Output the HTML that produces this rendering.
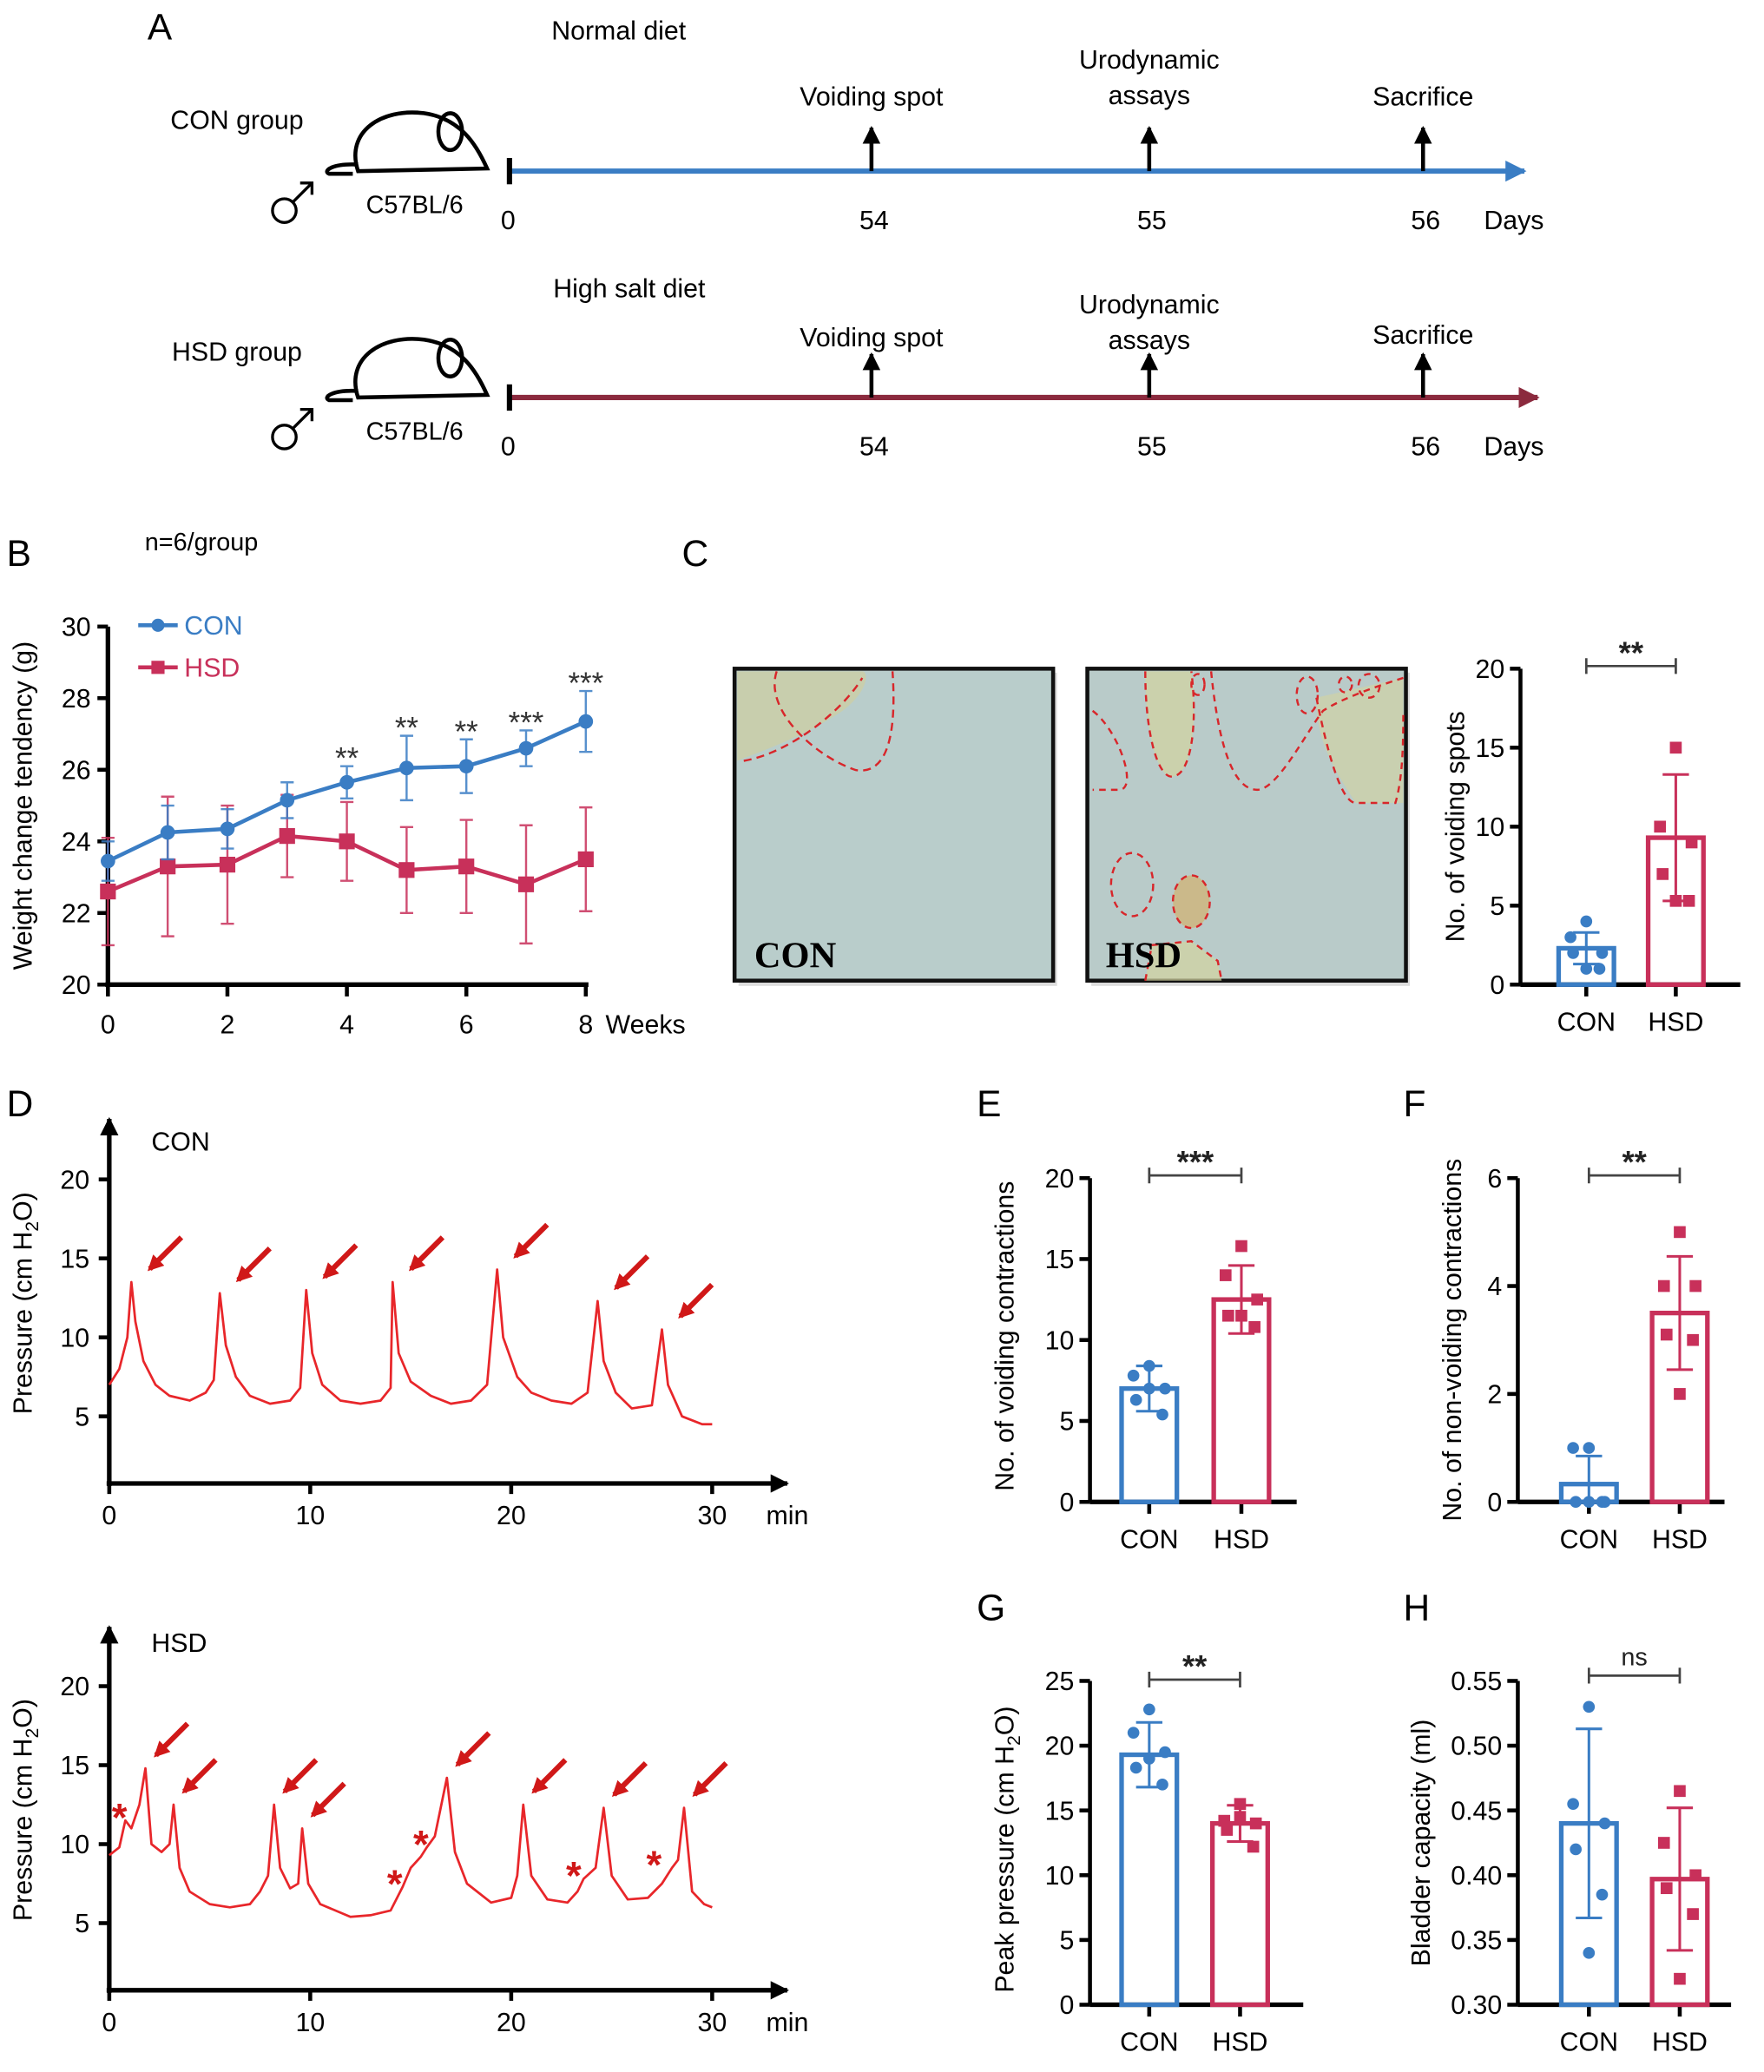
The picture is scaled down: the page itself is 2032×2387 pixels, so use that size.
<!DOCTYPE html>
<html><head><meta charset="utf-8">
<style>
html,body{margin:0;padding:0;background:#fff;}
svg{display:block;}
text{font-family:"Liberation Sans",Arial,sans-serif;}
</style></head>
<body>
<svg id="fig" xmlns="http://www.w3.org/2000/svg" width="2032" height="2387" viewBox="0 0 1340 1574.1">
<defs>
<marker id="ab" viewBox="0 0 10 10" refX="9" refY="5" markerWidth="4" markerHeight="4" orient="auto"><path d="M0,0 L10,5 L0,10 z" fill="#3a7dc4"/></marker>
<marker id="ar" viewBox="0 0 10 10" refX="9" refY="5" markerWidth="4" markerHeight="4" orient="auto"><path d="M0,0 L10,5 L0,10 z" fill="#8b2a3e"/></marker>
<marker id="ak" viewBox="0 0 10 10" refX="9" refY="5" markerWidth="4" markerHeight="4" orient="auto"><path d="M0,0 L10,5 L0,10 z" fill="#000"/></marker>
<marker id="akb" viewBox="0 0 10 10" refX="9" refY="5" markerWidth="4.5" markerHeight="4.5" orient="auto"><path d="M0,0 L10,5 L0,10 z" fill="#000"/></marker>
<marker id="arr" viewBox="0 0 10 10" refX="8" refY="5" markerWidth="3" markerHeight="3" orient="auto"><path d="M0,0 L10,5 L0,10 z" fill="#d01818"/></marker>
</defs>

<!-- PANEL A -->
<g>
<text x="112" y="30" font-size="28">A</text>
<g>
<text x="470" y="30" font-size="20" text-anchor="middle">Normal diet</text>
<text x="180" y="98" font-size="20" text-anchor="middle">CON group</text>
<g fill="none" stroke="#000" stroke-width="2.2">
<circle cx="216" cy="160" r="9"/><path d="M222.5,153.5 L237,139 M228,139 H237 V148"/>
</g>
<text x="315" y="162" font-size="19" text-anchor="middle">C57BL/6</text>
<g fill="none" stroke="#000" stroke-width="3">
<path d="M272,130 C262,100 290,82 322,86 C350,90 362,110 370,128 L272,130 Z"/>
<ellipse cx="342" cy="100" rx="9" ry="14"/><path d="M272,125 C252,124 245,130 250,132 L268,132"/>
</g>
<line x1="387" y1="130" x2="1158" y2="130" stroke="#3a7dc4" stroke-width="4" marker-end="url(#ab)"/>
<line x1="387" y1="120" x2="387" y2="140" stroke="#000" stroke-width="4"/>
</g>
<g>
<text x="478" y="226" font-size="20" text-anchor="middle">High salt diet</text>
<text x="180" y="274" font-size="20" text-anchor="middle">HSD group</text>
<g fill="none" stroke="#000" stroke-width="2.2">
<circle cx="216" cy="332" r="9"/><path d="M222.5,325.5 L237,311 M228,311 H237 V320"/>
</g>
<text x="315" y="334" font-size="19" text-anchor="middle">C57BL/6</text>
<g fill="none" stroke="#000" stroke-width="3">
<path d="M272,302 C262,272 290,254 322,258 C350,262 362,282 370,300 L272,302 Z"/>
<ellipse cx="342" cy="272" rx="9" ry="14"/><path d="M272,297 C252,296 245,302 250,304 L268,304"/>
</g>
<line x1="387" y1="302" x2="1168" y2="302" stroke="#8b2a3e" stroke-width="4" marker-end="url(#ar)"/>
<line x1="387" y1="292" x2="387" y2="312" stroke="#000" stroke-width="4"/>
</g>
</g>
<g id="aEvents"></g>

<!-- PANEL B -->
<g>
<text x="5" y="430" font-size="28">B</text>
<text x="110" y="418" font-size="19">n=6/group</text>
<text transform="translate(24,612) rotate(-90)" font-size="20" text-anchor="middle">Weight change tendency (g)</text>
<g>
<line x1="105" y1="475" x2="135" y2="475" stroke="#3a7dc4" stroke-width="3"/><circle cx="120" cy="475" r="5" fill="#3a7dc4"/>
<text x="140" y="482" font-size="20" fill="#3a7dc4">CON</text>
<line x1="105" y1="507" x2="135" y2="507" stroke="#c8305a" stroke-width="3"/><rect x="115" y="502" width="10" height="10" fill="#c8305a"/>
<text x="140" y="514" font-size="20" fill="#c8305a">HSD</text>
</g>
<g id="bChart"></g>
</g>

<!-- PANEL C -->
<g>
<text x="518" y="430" font-size="28">C</text>
<g>
<rect x="561" y="511" width="242" height="238" fill="#c6c6c6" opacity="0.6"/>
<rect x="558" y="508" width="242" height="237" fill="#b9cdcb" stroke="#111" stroke-width="3"/>
<path d="M560,578 C580,570 610,560 640,540 C660,525 660,510 655,510 L560,510Z" fill="#cfcf9f" opacity="0.7"/>
<path d="M565,578 C600,572 640,540 655,515 M590,510 C580,540 620,575 650,585 C680,590 680,540 678,510" fill="none" stroke="#d8262a" stroke-width="1.6" stroke-dasharray="6,4"/>
<text x="573" y="735" style="font-family:'Liberation Serif',serif;font-weight:bold;font-size:28px">CON</text>
</g>
<g>
<rect x="829" y="511" width="242" height="238" fill="#c6c6c6" opacity="0.6"/>
<rect x="826" y="508" width="242" height="237" fill="#b9cbc9" stroke="#111" stroke-width="3"/>
<path d="M870,510 C870,560 880,590 890,590 C905,590 910,550 905,510Z" fill="#d3d3a0" opacity="0.7"/>
<path d="M1000,530 L1066,515 L1066,610 L1030,610 C1010,580 1000,560 1000,530Z" fill="#d3d3a0" opacity="0.6"/>
<ellipse cx="905" cy="685" rx="14" ry="20" fill="#cbb98a"/>
<path d="M870,745 L875,718 L905,715 L925,730 L928,745Z" fill="#d3d3a0" opacity="0.7"/>
<g fill="none" stroke="#d8262a" stroke-width="1.6" stroke-dasharray="5,4">
<path d="M870,510 C870,560 880,590 890,590 C905,590 910,550 905,510"/>
<path d="M830,540 C850,555 865,600 850,600 L830,600"/>
<path d="M920,510 C925,560 935,600 955,600 C970,600 990,560 1005,540 C1020,530 1050,520 1066,515"/>
<path d="M1000,530 C1010,580 1020,610 1030,610 L1060,610 C1066,590 1066,560 1066,540"/>
<ellipse cx="910" cy="520" rx="5" ry="8"/><ellipse cx="1040" cy="521" rx="8" ry="9"/><ellipse cx="1022" cy="520" rx="5" ry="6"/><ellipse cx="993" cy="528" rx="8" ry="14"/>
<ellipse cx="860" cy="672" rx="16" ry="24"/><ellipse cx="905" cy="685" rx="14" ry="20"/>
<path d="M870,745 L875,718 L905,715 L925,730 L928,745"/>
</g>
<text x="840" y="735" style="font-family:'Liberation Serif',serif;font-weight:bold;font-size:28px">HSD</text>
</g>
<text transform="translate(1112,628) rotate(-90)" font-size="20" text-anchor="middle">No. of voiding spots</text>
<g id="cChart"></g>
</g>

<!-- PANEL D -->
<g>
<text x="5" y="848" font-size="28">D</text>
<text x="115" y="874" font-size="20">CON</text>
<text x="115" y="1255" font-size="20">HSD</text>
<text transform="translate(24,990) rotate(-90)" font-size="20" text-anchor="middle">Pressure (cm H<tspan font-size="14" dy="5">2</tspan><tspan dy="-5">O)</tspan></text>
<text transform="translate(24,1375) rotate(-90)" font-size="20" text-anchor="middle">Pressure (cm H<tspan font-size="14" dy="5">2</tspan><tspan dy="-5">O)</tspan></text>
<g id="dChart"></g>
</g>

<!-- Panels E-H -->
<text x="742" y="848" font-size="28">E</text>
<text x="1066" y="848" font-size="28">F</text>
<text x="742" y="1231" font-size="28">G</text>
<text x="1066" y="1231" font-size="28">H</text>
<text transform="translate(770,1015) rotate(-90)" font-size="20" text-anchor="middle">No. of voiding contractions</text>
<text transform="translate(1110,1018) rotate(-90)" font-size="20" text-anchor="middle">No. of non-voiding contractions</text>
<text transform="translate(770,1405) rotate(-90)" font-size="20" text-anchor="middle">Peak pressure (cm H<tspan font-size="14" dy="5">2</tspan><tspan dy="-5">O)</tspan></text>
<text transform="translate(1086,1400) rotate(-90)" font-size="20" text-anchor="middle">Bladder capacity (ml)</text>
<g id="efghChart"></g>
</svg>

<script>
// ---- Panel A data ----
const aEventDays = [54, 55, 56];
const aEventLabels = ["Voiding spot", "Urodynamic|assays", "Sacrifice"];
// ---- Panel B data ----
const bWeeks = [0,1,2,3,4,5,6,7,8];
const bConMean = [23.45,24.25,24.35,25.15,25.65,26.05,26.1,26.6,27.35];
const bConSD = [0.55,0.75,0.55,0.5,0.45,0.9,0.75,0.5,0.85];
const bHsdMean = [22.6,23.3,23.35,24.15,24.0,23.2,23.3,22.8,23.5];
const bHsdSD = [1.5,1.95,1.65,1.15,1.1,1.2,1.3,1.65,1.45];
const bSig = ["","","","","**","**","**","***","***"];
const bYTicks = [20,22,24,26,28,30];
const bXTicks = [0,2,4,6,8];
// ---- Panel C data ----
const cCats = ["CON","HSD"];
const cMean = [2.3, 9.3];
const cSD = [1.0, 4.0];
const cPointsCon = [4,3,2,2,1,1];
const cPointsHsd = [15,10,9,7,5.3,5.3];
const cTicks = [0,5,10,15,20];
// ---- Panel D data (time min, pressure) ----
const dConT = [0,0.5,0.9,1.1,1.3,1.7,2.3,3,4,4.8,5.2,5.5,5.8,6.3,7,8,9,9.5,9.8,10.1,10.6,11.5,12.5,13.5,14,14.1,14.4,15,16,17,18,18.8,19.3,19.6,20.3,21,22,23,23.8,24.3,24.6,25.2,26,27,27.5,27.8,28.5,29.5,30];
const dConP = [7,8,10,13.5,11,8.5,7,6.3,6,6.5,7.3,12.8,9.5,7.5,6.3,5.8,6,6.8,13,9,7,6,5.8,6,6.8,13.5,9,7.2,6.3,5.8,6,7,14.3,10,7.5,6.5,6,5.8,6.5,12.3,8.5,6.5,5.5,5.7,10.5,7,5,4.5,4.5];
const dConPeaks = [1.1,5.5,9.8,14.1,19.3,24.3,27.5];
const dConPeakP = [13.5,12.8,13,13.5,14.3,12.3,10.5];
const dHsdT = [0,0.5,0.8,1.1,1.5,1.8,2.1,2.6,3,3.2,3.5,4,5,6,7,7.5,7.9,8.2,8.5,9,9.4,9.6,9.9,10.5,12,13,14,14.6,15,15.5,15.8,16.2,16.8,17.2,17.8,19,20,20.3,20.6,21,21.8,22.8,23.3,23.6,24.2,24.6,25,25.8,26.8,27.5,28,28.3,28.6,29,29.6,30];
const dHsdP = [9.3,9.8,11.5,11,12.5,14.8,10,9.5,10,12.5,8.5,7,6.2,6,6.2,7,8,12.5,8.5,7.2,7.5,11,7.5,6.2,5.4,5.5,5.8,7.3,8.5,9.2,9.8,10.5,14.2,9.5,7.5,6.3,6.6,8,12.5,8,6.5,6.3,7,7.8,8.5,12.3,8,6.5,6.6,7.5,8.5,9,12.3,7,6.2,6];
const dHsdPeaks = [1.8,3.2,8.2,9.6,16.8,20.6,24.6,28.6];
const dHsdPeakP = [14.8,12.5,12.5,11,14.2,12.5,12.3,12.3];
const dHsdStarT = [0.9,14.6,15.9,23.5,27.5];
const dHsdStarP = [11.5,7.3,9.8,7.8,8.5];
const dXTicks = [0,10,20,30];
const dYTicks = [5,10,15,20];
// ---- Panels E-H data ----
const eMean = [7.0, 12.5]; const eSD = [1.4, 2.1];
const ePtsCon = [8.4,7.8,7.0,6.3,5.4,7.0]; const ePtsHsd = [15.8,14.0,12.5,11.5,10.8,11.5];
const eTicks = [0,5,10,15,20];
const fMean = [0.33, 3.5]; const fSD = [0.52, 1.05];
const fPtsCon = [1,1,0,0,0,0]; const fPtsHsd = [5,4,4,3.1,3,2];
const fTicks = [0,2,4,6];
const gMean = [19.3, 14.0]; const gSD = [2.5, 1.4];
const gPtsCon = [22.8,21,19.5,18.3,17,19.0]; const gPtsHsd = [15.5,14.2,14,13.5,12.2,14.5];
const gTicks = [0,5,10,15,20,25];
const hMean = [0.44, 0.397]; const hSD = [0.073, 0.055];
const hPtsCon = [0.53,0.455,0.44,0.42,0.385,0.34]; const hPtsHsd = [0.465,0.425,0.40,0.39,0.37,0.32];
const hTicks = [0.30,0.35,0.40,0.45,0.50,0.55];

const NS = "http://www.w3.org/2000/svg";
const BLUE = "#3a7dc4", RED = "#c8305a", TR = "#e8262a";
function el(parent, tag, attrs, txt){
  const e = document.createElementNS(NS, tag);
  for (const k in attrs) e.setAttribute(k, attrs[k]);
  if (txt !== undefined) e.textContent = txt;
  parent.appendChild(e);
  return e;
}

// Panel A events
(function(){
  const g = document.getElementById('aEvents');
  const pos = d => d === 54 ? 662 : d === 55 ? 873 : d === 56 ? 1081 : 387;
  [[130,0],[302,1]].forEach(([ly, row]) => {
    aEventDays.forEach((d, i) => {
      const x = pos(d);
      const a = el(g, 'line', {x1:x, y1:ly, x2:x, y2:ly-33, stroke:'#000', 'stroke-width':3, 'marker-end':'url(#akb)'});
      
      
      const parts = aEventLabels[i].split('|');
      const top = row === 0 ? (parts.length > 1 ? 52 : 80) : (parts.length > 1 ? 238 : (i === 2 ? 261 : 263));
      parts.forEach((p, j) => {
        const t = el(g, 'text', {x:x, y:top + j*27, 'font-size':20, 'text-anchor':'middle'}, p);
        
        
      });
      const n = el(g, 'text', {x:x+2, y:ly+44, 'font-size':20, 'text-anchor':'middle'}, String(d));
      
      
    });
    const z = el(g, 'text', {x:386, y:ly+44, 'font-size':20, 'text-anchor':'middle'}, '0');
    
    
    const dd = el(g, 'text', {x:1150, y:ly+44, 'font-size':20, 'text-anchor':'middle'}, 'Days');
    
    
  });
})();

// Panel B
(function(){
  const g = document.getElementById('bChart');
  const X = w => 82 + w * (445 - 82) / 8;
  const Y = v => 748 - (v - 20) * (748 - 476) / 10;
  el(g, 'line', {x1:82, y1:476, x2:82, y2:748, stroke:'#000', 'stroke-width':3.5});
  el(g, 'line', {x1:80, y1:748, x2:447, y2:748, stroke:'#000', 'stroke-width':3.5});
  bYTicks.forEach(v => {
    el(g, 'line', {x1:74, y1:Y(v), x2:82, y2:Y(v), stroke:'#000', 'stroke-width':3});
    const t = el(g, 'text', {x:69, y:Y(v)+7, 'font-size':20, 'text-anchor':'end'}, v);
    
    
  });
  bXTicks.forEach(w => {
    el(g, 'line', {x1:X(w), y1:748, x2:X(w), y2:757, stroke:'#000', 'stroke-width':3});
    const t = el(g, 'text', {x:X(w), y:785, 'font-size':20, 'text-anchor':'middle'}, w);
    
    
  });
  const wl = el(g, 'text', {x:460, y:785, 'font-size':20}, 'Weeks');
  
  
  [[bHsdMean, bHsdSD, RED, 'hsd'], [bConMean, bConSD, BLUE, 'con']].forEach(([m, s, c, nm]) => {
    m.forEach((v, i) => {
      const x = X(bWeeks[i]);
      const e = el(g, 'path', {d:`M${x-5},${Y(v+s[i])}H${x+5}M${x},${Y(v+s[i])}V${Y(v-s[i])}M${x-5},${Y(v-s[i])}H${x+5}`, stroke:c, 'stroke-width':1.6, fill:'none', opacity:0.85});
      
      
    });
    const ln = el(g, 'polyline', {points: m.map((v,i) => X(bWeeks[i]) + ',' + Y(v)).join(' '), fill:'none', stroke:c, 'stroke-width':3});
    
    
    m.forEach((v, i) => {
      const x = X(bWeeks[i]);
      const p = nm === 'con' ? el(g, 'circle', {cx:x, cy:Y(v), r:5.5, fill:c}) : el(g, 'rect', {x:x-6, y:Y(v)-6, width:12, height:12, fill:c});
      
      
    });
  });
  bSig.forEach((s, i) => {
    if (!s) return;
    const t = el(g, 'text', {x:X(bWeeks[i]), y:Y(bConMean[i] + bConSD[i]) + 2, 'font-size':23, 'text-anchor':'middle', fill:'#333'}, s);
    
    
  });
})();

// Generic bar chart
function barChart(g, o){
  const Y = v => o.y0 - (v - o.vmin) * (o.y0 - o.y1) / (o.vmax - o.vmin);
  el(g, 'line', {x1:o.ax, y1:o.y1, x2:o.ax, y2:o.y0, stroke:'#000', 'stroke-width':3});
  el(g, 'line', {x1:o.ax, y1:o.y0, x2:o.ax2, y2:o.y0, stroke:'#000', 'stroke-width':3.5});
  o.ticks.forEach(v => {
    el(g, 'line', {x1:o.ax-8, y1:Y(v), x2:o.ax, y2:Y(v), stroke:'#000', 'stroke-width':3});
    const t = el(g, 'text', {x:o.ax-12, y:Y(v)+7, 'font-size':20, 'text-anchor':'end'}, o.fmt ? o.fmt(v) : v);
    
    
  });
  const cols = [BLUE, RED], names = ['con','hsd'];
  o.mean.forEach((m, i) => {
    const cx = o.cx[i];
    el(g, 'line', {x1:cx, y1:o.y0, x2:cx, y2:o.y0+9, stroke:'#000', 'stroke-width':3});
    const b = el(g, 'rect', {x:cx-21, y:Y(m), width:42, height:o.y0 - Y(m), fill:'none', stroke:cols[i], 'stroke-width':3.5});
    
    
    const hi = Y(m + o.sd[i]), lo = Y(Math.max(o.vmin, m - o.sd[i]));
    const e = el(g, 'path', {d:`M${cx-10},${hi}H${cx+10}M${cx},${hi}V${lo}M${cx-10},${lo}H${cx+10}`, stroke:cols[i], 'stroke-width':2, fill:'none'});
    
    
    const pts = i === 0 ? o.ptsCon : o.ptsHsd;
    pts.forEach((v, j) => {
      const dx = [0, -12, 12, -10, 10, 0][j];
      const px = cx + dx, py = Y(v);
      const p = i === 0 ? el(g, 'circle', {cx:px, cy:py, r:4.5, fill:cols[i]}) : el(g, 'rect', {x:px-4.5, y:py-4.5, width:9, height:9, fill:cols[i]});
      
      
    });
    const l = el(g, 'text', {x:cx, y:o.y0+35, 'font-size':20, 'text-anchor':'middle'}, ['CON','HSD'][i]);
    
    
  });
  const by = o.sigY;
  const br = el(g, 'path', {d:`M${o.cx[0]},${by-6}V${by+6}M${o.cx[0]},${by}H${o.cx[1]}M${o.cx[1]},${by-6}V${by+6}`, stroke:'#444', 'stroke-width':1.8, fill:'none'});
  
  
  const st = el(g, 'text', {x:(o.cx[0]+o.cx[1])/2, y:o.sig === 'ns' ? by-8 : by-2, 'font-size':o.sig === 'ns' ? 19 : 24, 'font-weight':o.sig==='ns'?'normal':'bold', 'text-anchor':'middle', fill:'#222'}, o.sig);
  
  
}

barChart(document.getElementById('cChart'), {ax:1155, ax2:1322, y0:748, y1:508, vmin:0, vmax:20, ticks:cTicks, cx:[1205,1273], mean:cMean, sd:cSD, ptsCon:cPointsCon, ptsHsd:cPointsHsd, sig:'**', sigY:506});
const efg = document.getElementById('efghChart');
barChart(efg, {ax:828, ax2:985, y0:1141, y1:895, vmin:0, vmax:20, ticks:eTicks, cx:[873,943], mean:eMean, sd:eSD, ptsCon:ePtsCon, ptsHsd:ePtsHsd, sig:'***', sigY:893});
barChart(efg, {ax:1153, ax2:1310, y0:1141, y1:895, vmin:0, vmax:6, ticks:fTicks, cx:[1207,1276], mean:fMean, sd:fSD, ptsCon:fPtsCon, ptsHsd:fPtsHsd, sig:'**', sigY:893});
barChart(efg, {ax:828, ax2:990, y0:1523, y1:1277, vmin:0, vmax:25, ticks:gTicks, cx:[873,942], mean:gMean, sd:gSD, ptsCon:gPtsCon, ptsHsd:gPtsHsd, sig:'**', sigY:1276});
barChart(efg, {ax:1153, ax2:1315, y0:1523, y1:1277, vmin:0.30, vmax:0.55, ticks:hTicks, cx:[1207,1276], mean:hMean, sd:hSD, ptsCon:hPtsCon, ptsHsd:hPtsHsd, sig:'ns', sigY:1273, fmt:v=>v.toFixed(2)});

// Panel D traces
function trace(g, o){
  const X = t => 83 + t * (541 - 83) / 30;
  const Y = p => o.base - p * 12;
  const ya = el(g, 'line', {x1:83, y1:o.axY+2, x2:83, y2:o.top, stroke:'#000', 'stroke-width':3.5, 'marker-end':'url(#ak)'});
   
  const xa = el(g, 'line', {x1:81, y1:o.axY, x2:598, y2:o.axY, stroke:'#000', 'stroke-width':3.5, 'marker-end':'url(#ak)'});
   
  dYTicks.forEach(v => {
    el(g, 'line', {x1:75, y1:Y(v), x2:83, y2:Y(v), stroke:'#000', 'stroke-width':3});
    const t = el(g, 'text', {x:68, y:Y(v)+7, 'font-size':20, 'text-anchor':'end'}, v);
     
  });
  dXTicks.forEach(v => {
    el(g, 'line', {x1:X(v), y1:o.axY, x2:X(v), y2:o.axY+8, stroke:'#000', 'stroke-width':3});
    const t = el(g, 'text', {x:X(v), y:o.axY+31, 'font-size':20, 'text-anchor':'middle'}, v);
     
  });
  const m = el(g, 'text', {x:582, y:o.axY+31, 'font-size':20}, 'min');
   
  const ln = el(g, 'polyline', {points:o.t.map((t,i) => X(t)+','+Y(o.p[i])).join(' '), fill:'none', stroke:TR, 'stroke-width':1.8, 'stroke-linejoin':'round'});
   
  o.peaks.forEach((t, i) => {
    const x = X(t) + o.aoff, y = Y(o.peakP[i]) - 10;
    const a = el(g, 'line', {x1:x+24, y1:y-24, x2:x, y2:y, stroke:'#d01818', 'stroke-width':4, 'marker-end':'url(#arr)'});
     
  });
  (o.starT || []).forEach((t, i) => {
    const s = el(g, 'text', {x:X(t)-6, y:Y(o.starP[i])+8, 'font-size':30, 'font-weight':'bold', fill:'#d01818', 'text-anchor':'middle'}, '*');
     
  });
}
const dg = document.getElementById('dChart');
trace(dg, {base:1136, axY:1127, top:850, t:dConT, p:dConP, peaks:dConPeaks, peakP:dConPeakP, name:'con', aoff:14});
trace(dg, {base:1521, axY:1512, top:1236, t:dHsdT, p:dHsdP, peaks:dHsdPeaks, peakP:dHsdPeakP, starT:dHsdStarT, starP:dHsdStarP, name:'hsd', aoff:8});
</script>
</body></html>
